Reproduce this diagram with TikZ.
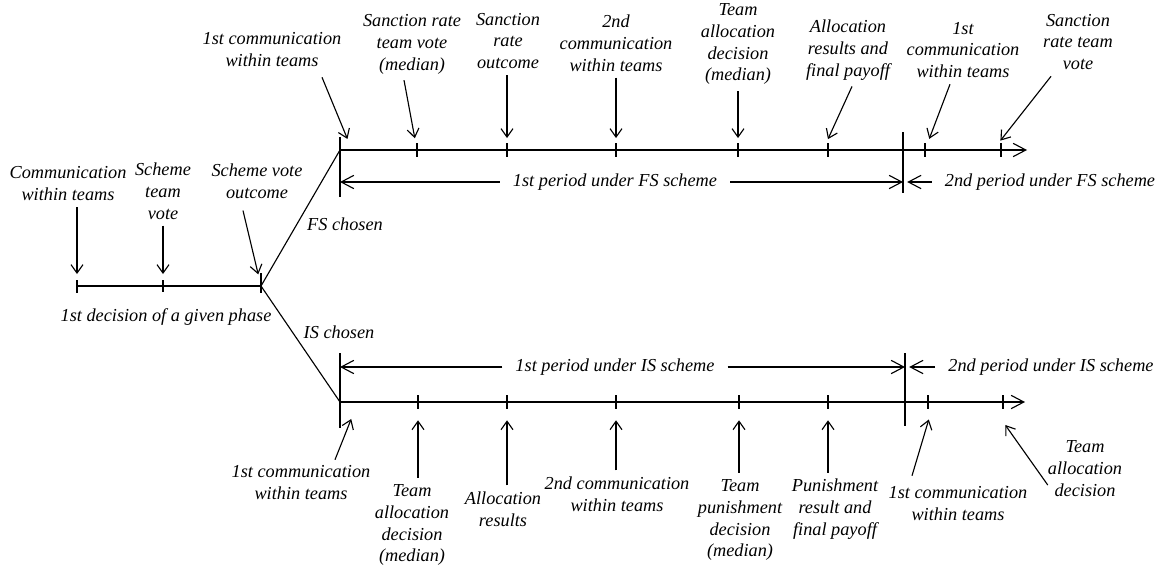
\documentclass[tikz,border=0pt]{standalone}
\usepackage{fontspec}
\setmainfont{Liberation Serif}
\usetikzlibrary{arrows.meta, calc}

\begin{document}
\begin{tikzpicture}[
    x=0.025cm, y=-0.025cm,
    font=\fontsize{13}{15.6}\selectfont\itshape,
    line width=0.8pt,
    evt/.style={align=center, inner sep=4pt},
    per/.style={inner xsep=9pt, inner ysep=2pt},
    ptr/.style={-{Straight Barb[length=6pt,width=8.5pt]}, shorten >=8.5pt},
    ptrup/.style={-{Straight Barb[length=6pt,width=8.5pt]}, shorten >=13pt},
    axis/.style={-{Straight Barb[length=9pt,width=9.5pt]}},
    span/.style={-{Straight Barb[length=9pt,width=9.5pt]}},
  ]
  \useasboundingbox (0,0) rectangle (1163,567);

  % points on the three time lines
  \coordinate (s0) at (77,286);
  \coordinate (s1) at (163,286);
  \coordinate (s2) at (261,286);
  \coordinate (f0) at (340,150);
  \coordinate (f1) at (417,150);
  \coordinate (f2) at (507,150);
  \coordinate (f3) at (616,150);
  \coordinate (f4) at (738,150);
  \coordinate (f5) at (828,150);
  \coordinate (d1) at (903,150);
  \coordinate (f6) at (925,150);
  \coordinate (f7) at (1001,150);
  \coordinate (fe) at (1027,150);
  \coordinate (b0) at (340,402);
  \coordinate (b1) at (418,402);
  \coordinate (b2) at (507,402);
  \coordinate (b3) at (616,402);
  \coordinate (b4) at (739,402);
  \coordinate (b5) at (828,402);
  \coordinate (d2) at (905,402);
  \coordinate (b6) at (928,402);
  \coordinate (b7) at (1003,402);
  \coordinate (be) at (1025,402);

  % lines, bars and ticks
  \draw (s0) -- (s2);
  \draw (s2) -- (f0);
  \draw (s2) -- (b0);
  \draw[axis] (f0) -- (fe);
  \draw[axis] (b0) -- (be);
  \draw (f0) +(0,-13) -- +(0,47);
  \draw (d1) +(0,-18) -- +(0,43);
  \draw (b0) +(0,-49) -- +(0,26);
  \draw (d2) +(0,-49) -- +(0,24);
  \draw (s0) +(0,-6) -- +(0,7) (s1) +(0,-6) -- +(0,6) (s2) +(0,-13) -- +(0,7);
  \draw (f1) +(0,-7) -- +(0,7) (f2) +(0,-7) -- +(0,7) (f3) +(0,-7) -- +(0,7)
        (f4) +(0,-7) -- +(0,7) (f5) +(0,-7) -- +(0,7) (f6) +(0,-7) -- +(0,7)
        (f7) +(0,-7) -- +(0,7);
  \draw (b1) +(0,-7) -- +(0,7) (b2) +(0,-7) -- +(0,7) (b3) +(0,-7) -- +(0,7)
        (b4) +(0,-7) -- +(0,7) (b5) +(0,-7) -- +(0,7) (b6) +(0,-7) -- +(0,7)
        (b7) +(0,-7) -- +(0,7);

  % decision of the phase
  \node[evt] (l0) at (68,184) {Communication\\within teams};
  \node[evt] (l1) at (163,191) {Scheme\\team\\vote};
  \node[evt] (l2) at (257,181) {Scheme vote\\outcome};
  \node (ph) at (166,317) {1st decision of a given phase};
  \node (fs) at (345,224) {FS chosen};
  \node (is) at (339,332) {IS chosen};
  \draw[ptr] (l0.south -| s0) -- (s0);
  \draw[ptr] (l1.south -| s1) -- (s1);
  \draw[ptr] ($(l2.south)+(-14,6)$) -- (s2);

  % FS branch
  \node[evt] (t0) at (272,50) {1st communication\\within teams};
  \node[evt] (t1) at (412,44) {Sanction rate\\team vote\\(median)};
  \node[evt] (t2) at (508,41) {Sanction\\rate\\outcome};
  \node[evt] (t3) at (616,43) {2nd\\communication\\within teams};
  \node[evt] (t4) at (738,44) {Team\\allocation\\decision\\(median)};
  \node[evt] (t5) at (848,50) {Allocation\\results and\\final payoff};
  \node[evt] (t6) at (963,50) {1st\\communication\\within teams};
  \node[evt] (t7) at (1078,42) {Sanction\\rate team\\vote};
  \draw[ptr] ($(t0.south)+(50,4)$) -- ($(f0)+(12,0)$);
  \draw[ptr] ($(t1.south)+(-8,0)$) -- (f1);
  \draw[ptr] (t2.south -| f2) -- (f2);
  \draw[ptr] (t3.south -| f3) -- (f3);
  \draw[ptr] (t4.south -| f4) -- (f4);
  \draw[ptr] ($(t5.south)+(4,0)$) -- ($(f5)+(-5,0)$);
  \draw[ptr] (t6) -- (f6);
  \draw[ptr] (t7) -- ($(f7)+(-8,0)$);

  \node[per] (p1) at (615,182) {1st period under FS scheme};
  \node[per] (p2) at (1050,182) {2nd period under FS scheme};
  \draw[span] (p1) -- (p1 -| f0);
  \draw[span] (p1) -- (p1 -| d1);
  \draw[span, shorten >=3pt] (p2) -- (p2 -| d1);

  % IS branch
  \node[evt] (u0) at (301,483) {1st communication\\within teams};
  \node[evt] (u1) at (412,525) {Team\\allocation\\decision\\(median)};
  \node[evt] (u2) at (503,509) {Allocation\\results};
  \node[evt] (u3) at (617,494) {2nd communication\\within teams};
  \node[evt] (u4) at (740,520) {Team\\punishment\\decision\\(median)};
  \node[evt] (u5) at (835,509) {Punishment\\result and\\final payoff};
  \node[evt] (u6) at (958,504) {1st communication\\within teams};
  \node[evt] (u7) at (1085,469) {Team\\allocation\\decision};
  \draw[ptrup] ($(u0.north)+(34,0)$) -- ($(b0)+(18,0)$);
  \draw[ptrup] (u1.north -| b1) -- (b1);
  \draw[ptrup] (u2.north -| b2) -- (b2);
  \draw[ptrup] (u3.north -| b3) -- (b3);
  \draw[ptrup] (u4.north -| b4) -- (b4);
  \draw[ptrup] (u5.north -| b5) -- (b5);
  \draw[ptrup] ($(u6.north)+(-46,-5)$) -- ($(b6)+(6,0)$);
  \draw[ptrup, shorten >=20pt] ($(u7.west)+(6,16)$) -- ($(b7)+(-14,0)$);

  \node[per] (q1) at (615,367) {1st period under IS scheme};
  \node[per] (q2) at (1051,367) {2nd period under IS scheme};
  \draw[span] (q1) -- (q1 -| b0);
  \draw[span] (q1) -- (q1 -| d2);
  \draw[span, shorten >=3pt] (q2) -- (q2 -| d2);
\end{tikzpicture}
\end{document}
